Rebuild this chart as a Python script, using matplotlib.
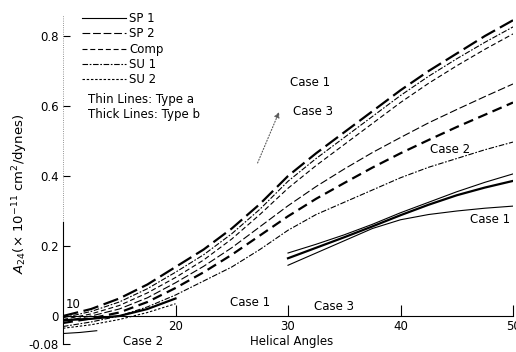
import numpy as np
import matplotlib
matplotlib.use("Agg")
import matplotlib.pyplot as plt

# helical angle grid (degrees)
angles = [10, 12.5, 15, 17.5, 20, 22.5, 25, 27.5, 30,
          32.5, 35, 37.5, 40, 42.5, 45, 47.5, 50]
angles_hi = [30, 32.5, 35, 37.5, 40, 42.5, 45, 47.5, 50]
angles_lo = [10, 12.5, 15, 17.5, 20]
angles_stub = [10, 11.5, 13]

# A24 (x 1e-11 cm^2/dynes)
up_1 = [0.0, 0.02, 0.05, 0.09, 0.14, 0.19, 0.25, 0.32, 0.40,
        0.465, 0.525, 0.585, 0.645, 0.70, 0.75, 0.80, 0.845]
up_2 = [-0.005, 0.013, 0.04, 0.078, 0.125, 0.175, 0.235, 0.305, 0.385,
        0.45, 0.51, 0.57, 0.63, 0.685, 0.735, 0.782, 0.826]
up_3 = [-0.01, 0.006, 0.03, 0.066, 0.11, 0.16, 0.22, 0.29, 0.365,
        0.43, 0.49, 0.55, 0.61, 0.665, 0.715, 0.762, 0.806]
mid_1 = [-0.015, 0.0, 0.02, 0.052, 0.095, 0.142, 0.195, 0.255, 0.315,
         0.37, 0.42, 0.467, 0.51, 0.552, 0.59, 0.627, 0.663]
mid_2 = [-0.02, -0.007, 0.01, 0.04, 0.08, 0.125, 0.175, 0.23, 0.285,
         0.335, 0.38, 0.424, 0.465, 0.503, 0.54, 0.575, 0.61]
mid_3 = [-0.03, -0.017, 0.0, 0.026, 0.06, 0.10, 0.14, 0.19, 0.245,
         0.29, 0.325, 0.36, 0.395, 0.425, 0.45, 0.475, 0.497]
low_1 = [0.18, 0.205, 0.232, 0.262, 0.295, 0.325, 0.355, 0.382, 0.406]
low_2 = [0.165, 0.195, 0.225, 0.256, 0.288, 0.318, 0.345, 0.367, 0.386]
low_3 = [0.145, 0.18, 0.215, 0.25, 0.275, 0.29, 0.30, 0.308, 0.314]
small_1 = [-0.012, -0.008, 0.0, 0.02, 0.05]
small_2 = [-0.035, -0.025, -0.01, 0.01, 0.035]
stub = [-0.05, -0.047, -0.042]

legend_names = ["SP 1", "SP 2", "Comp", "SU 1", "SU 2"]
y_ticks = [-0.08, 0, 0.2, 0.4, 0.6, 0.8]
y_ticklabels = ["-0.08", "0", "0.2", "0.4", "0.6", "0.8"]
x_ticks = [20, 30, 40, 50]

styles = {
    "SP 1": "-",
    "SP 2": (0, (7, 2.5)),
    "Comp": (0, (4.5, 2.5)),
    "SU 1": (0, (5, 1.5, 1.5, 1.5)),
    "SU 2": (0, (2.2, 1.6)),
}
thin, thick = 0.8, 1.6

plt.rcParams["font.family"] = ["DejaVu Sans"]
fig = plt.figure(figsize=(5.16, 3.52), dpi=100)
ax = fig.add_axes([0.1221, 0.0227, 0.8721, 0.9446])

curves = [
    (angles, up_1, "SP 2", thick),
    (angles, up_2, "SU 1", thin),
    (angles, up_3, "Comp", thin),
    (angles, mid_1, "SP 2", thin),
    (angles, mid_2, "Comp", thick),
    (angles, mid_3, "SU 1", thin),
    (angles_hi, low_1, "SP 1", thin),
    (angles_hi, low_2, "SP 1", thick),
    (angles_hi, low_3, "SP 1", thin),
    (angles_lo, small_1, "SP 1", thick),
    (angles_lo, small_2, "SU 2", thin),
    (angles_stub, stub, "SP 1", thin),
]
for xs, ys, st, lw in curves:
    ax.plot(xs, ys, color="k", lw=lw, ls=styles[st])

# legend
handles = [plt.Line2D([], [], color="k", lw=thin, ls=styles[n])
           for n in legend_names]
fig.legend(handles, legend_names, loc="upper left",
           bbox_to_anchor=(0.158, 0.966), frameon=False, fontsize=8.5,
           handlelength=3.8, handletextpad=0.25, labelspacing=0.2,
           borderpad=0, borderaxespad=0)

ax.text(12.2, 0.62, "Thin Lines: Type a", fontsize=8.5, va="center")
ax.text(12.2, 0.577, "Thick Lines: Type b", fontsize=8.5, va="center")

# case labels
ax.text(30.2, 0.667, "Case 1", fontsize=8.5, va="center")
ax.text(30.4, 0.583, "Case 3", fontsize=8.5, va="center")
ax.annotate("", xy=(29.3, 0.59), xytext=(27.2, 0.43),
            arrowprops=dict(arrowstyle="-|>", ls=":", color="0.35",
                            lw=0.8, mutation_scale=8))
ax.text(42.6, 0.477, "Case 2", fontsize=8.5, va="center")
ax.text(46.2, 0.277, "Case 1", fontsize=8.5, va="center")
ax.text(24.8, 0.04, "Case 1", fontsize=8.5, va="center")
ax.text(32.3, 0.026, "Case 3", fontsize=8.5, va="center")
ax.text(15.3, -0.073, "Case 2", fontsize=8.5, va="center")
ax.text(30.3, -0.073, "Helical Angles", fontsize=8.5, va="center",
        ha="center")
ax.text(10.2, 0.034, "10", fontsize=8.5, va="center")
ax.text(6.2, 0.35, r"$A_{24}$(× 10$^{-11}$ cm$^2$/dynes)", fontsize=9.5,
        rotation=90, va="center", ha="center")

# axes
ax.set_xlim(10, 50)
ax.set_ylim(-0.08, 0.87)
ax.spines["top"].set_visible(False)
ax.spines["right"].set_visible(False)
ax.spines["bottom"].set_position(("data", 0))
ax.spines["left"].set_bounds(-0.08, 0.27)
ax.spines["bottom"].set_linewidth(0.8)
ax.spines["left"].set_linewidth(0.8)
ax.plot([10, 10], [0.27, 0.86], color="0.45", lw=0.6, ls=":",
        clip_on=False)

ax.set_xticks(x_ticks)
ax.set_xticklabels([str(t) for t in x_ticks])
ax.set_yticks(y_ticks)
ax.set_yticklabels(y_ticklabels)
ax.tick_params(axis="x", direction="in", length=8, width=0.8, pad=3,
               labelsize=8.5)
ax.tick_params(axis="y", direction="in", length=5, width=0.8, pad=3,
               labelsize=8.5)

fig.savefig("out.png", dpi=100)
